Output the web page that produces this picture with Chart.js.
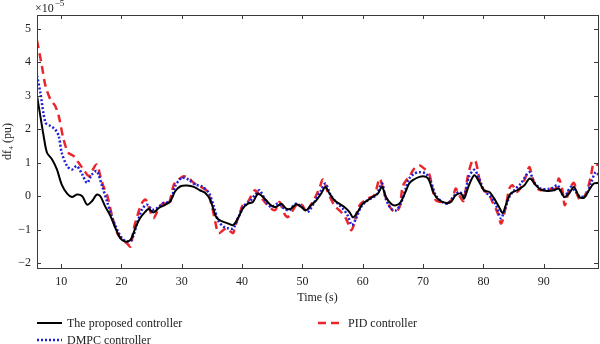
<!DOCTYPE html>
<html>
<head>
<meta charset="utf-8">
<script src="https://cdn.jsdelivr.net/npm/chart.js@4"></script>
<style>
  html, body { margin: 0; padding: 0; background: #fff; }
  #wrap { position: relative; width: 600px; height: 344px; }
</style>
</head>
<body>
<div id="wrap"><canvas id="myChart" width="600" height="344"></canvas></div>
<script>
"use strict";

// values are in units of 1e-5 pu
const propTime = [6, 6.55, 7.1, 7.66, 8.5, 9.3, 10.1, 11, 11.8, 12.6, 13.5, 14.3, 15.1, 15.9, 16.5, 17.3, 18.2, 19, 19.8, 20.6, 21.5, 22.3, 23.1, 24, 24.5, 25.3, 26.2, 27.3, 28.1, 28.9, 29.8, 30.9, 32, 33, 33.9, 34.7, 35.8, 36.7, 37.5,
  38.5, 39.3, 40.1, 40.95, 41.8, 42.6, 43.15, 44, 44.8, 45.6, 46.5, 47.3, 48.1, 49, 49.8, 50.6, 51.4, 52.3, 53.1, 53.8, 54.5, 55.3, 56.1, 56.95, 57.8, 58.4, 59.15, 60, 60.8, 61.6, 62.5, 63.2, 63.85, 64.7, 65.5, 66.3, 67.2, 67.7,
  68.3, 69.4, 70.5, 71, 71.8, 72.7, 73.8, 74.6, 75.4, 76.3, 76.8, 77.6, 78.5, 79.3, 80.1, 81, 81.8, 82.6, 83.2, 83.7, 84.5, 85.6, 86.8, 87.7, 88.7, 89.5, 90.6, 91.7, 92.5, 93.4, 94.2, 95, 95.9, 96.7, 97.5, 98.3, 99.2];
const propValues = [3.0, 2.4, 1.8, 1.3, 1.1, 0.8, 0.35, 0.08, -0.02, 0.05, 0, -0.25, -0.15, 0.05, 0, -0.3, -0.6, -0.95, -1.25, -1.35, -1.3, -0.95, -0.65, -0.45, -0.38, -0.48, -0.35, -0.25, -0.15, 0.15, 0.3, 0.32, 0.28, 0.18, 0.1, -0.1, -0.65, -0.75, -0.8,
  -0.86, -0.66, -0.37, -0.22, -0.17, 0.08, 0.03, -0.12, -0.27, -0.32, -0.22, -0.37, -0.37, -0.24, -0.32, -0.42, -0.27, -0.12, 0.08, 0.28, 0.08, -0.12, -0.22, -0.32, -0.47, -0.63, -0.47, -0.22, -0.12, -0.02, 0.08, 0.28, -0.02, -0.22, -0.27, -0.17, 0.18, 0.38,
  0.48, 0.58, 0.58, 0.48, 0.08, -0.12, -0.2, -0.17, 0.03, 0.08, -0.07, 0.33, 0.63, 0.43, 0.18, 0.13, -0.07, -0.32, -0.5, -0.27, 0.08, 0.18, 0.33, 0.53, 0.33, 0.2, 0.16, 0.18, 0.23, -0.02, 0.08, 0.28, -0.02, -0.04, 0.18, 0.38, 0.4];

const dmpcTime = [6, 6.55, 7.4, 8.2, 9, 9.6, 10.1, 11, 11.8, 12.6, 13.5, 14.3, 15.1, 15.9, 16.8, 17.6, 18.4, 19.3, 20.1, 20.9, 21.7, 22.6, 23.4, 24.2, 25.1, 25.9, 27, 28.1, 28.9, 30, 31.1, 32.2, 33.3, 34.5, 35.3, 36.1, 36.9, 37.5,
  38.5, 39.3, 40.4, 41.2, 42.3, 42.9, 44, 44.8, 45.9, 47, 47.8, 48.9, 50.3, 50.9, 52, 53.1, 53.8, 54.7, 55.6, 56.7, 57.5, 58.2, 58.9, 59.7, 60.8, 62.2, 63.2, 63.8, 64.7, 65.5, 66.3, 67.2,
  67.7, 68.5, 69.4, 70.5, 71.3, 72.1, 73.2, 74.1, 75.2, 76, 76.8, 77.6, 78.5, 79.3, 80.1, 81.2, 82.1, 82.9, 83.4, 84.3, 85.1, 86.2, 87.6, 88.4, 89.5, 91.2, 92.3, 93.4, 94.5, 95.3, 96.1, 97, 97.8, 98.6, 99.2];
const dmpcValues = [3.6, 3.1, 2.2, 2.1, 2.0, 1.8, 1.3, 0.9, 0.8, 0.9, 0.65, 0.4, 0.65, 0.75, 0.3, -0.15, -0.6, -1.0, -1.25, -1.35, -1.3, -0.8, -0.4, -0.25, -0.4, -0.35, -0.2, -0.15, 0.3, 0.55, 0.5, 0.35, 0.3, 0.1, -0.3, -0.75, -0.9, -0.95,
  -0.96, -0.66, -0.27, -0.17, 0.08, 0.18, -0.17, -0.32, -0.22, -0.37, -0.42, -0.22, -0.37, -0.47, -0.17, 0.18, 0.38, 0.03, -0.17, -0.37, -0.57, -0.86, -0.66, -0.32, -0.12, 0.03, 0.38, -0.07, -0.37, -0.42, -0.22, 0.28,
  0.53, 0.67, 0.72, 0.67, 0.43, 0.03, -0.17, -0.22, 0.03, 0.13, 0.03, 0.58, 0.79, 0.53, 0.18, -0.02, -0.27, -0.66, -0.47, -0.02, 0.18, 0.38, 0.72, 0.43, 0.23, 0.23, 0.33, -0.02, 0.28, 0.13, -0.02, 0.03, 0.38, 0.72, 0.62];

const pidTime = [6, 6.8, 7.4, 8.2, 9, 9.6, 10.4, 11.2, 12.1, 12.9, 13.7, 14.6, 15.1, 15.9, 16.5, 17, 17.6, 18.4, 19.3, 20.1, 20.9, 21.5, 22, 22.6, 23.4, 24, 24.5, 25.3, 26.2, 27, 27.8, 28.7, 29.5, 30.3, 31.1, 32, 33, 34.2, 35, 35.6, 36.1,
  37.35, 38.5, 38.8, 39.6, 40.1, 40.95, 42.1, 42.9, 44, 45.4, 46.2, 47, 47.6, 49.2, 50, 50.6, 51.2, 52, 52.8, 53.4, 54.2, 55.3, 56.4, 57.2, 57.8, 58.1, 58.6, 59.2, 59.7, 60.8, 61.9, 62.8, 63.3, 64.2, 65.3, 66.1, 66.6, 67.2,
  67.7, 68.5, 69.4, 69.9, 71, 71.6, 72.1, 73, 74.1, 74.9, 75.4, 76, 76.7, 77.4, 78.2, 78.75, 79.5, 80.1, 81, 81.5, 82.3, 82.9, 83.2, 83.7, 84.3, 84.8, 85.6, 86.8, 87.6, 88.1, 88.7, 89.5, 90.6, 92, 92.5, 93.1, 93.5, 94.2, 95, 95.6, 96.1, 97, 97.8, 98.3, 99.2];
const pidValues = [4.65, 3.9, 3.3, 2.9, 2.7, 2.4, 1.7, 1.3, 1.2, 1.0, 0.8, 0.6, 0.75, 0.95, 0.6, 0.3, 0.05, -0.55, -1.1, -1.3, -1.4, -1.5, -1.0, -0.6, -0.2, -0.1, -0.3, -0.65, -0.35, -0.2, -0.25, 0.35, 0.5, 0.6, 0.55, 0.4, 0.3, 0.15, -0.3, -0.8, -1.1,
  -0.96, -1.1, -0.9, -0.52, -0.27, -0.17, 0.18, 0.03, -0.22, -0.42, -0.17, -0.52, -0.62, -0.22, -0.27, -0.47, -0.32, -0.07, 0.23, 0.5, 0.13, -0.27, -0.47, -0.66, -0.91, -1.01, -0.81, -0.37, -0.22, -0.07, 0.03, 0.53, 0.28, -0.22, -0.47, -0.32, 0.28, 0.48,
  0.58, 0.82, 0.92, 0.87, 0.67, 0.18, -0.12, -0.17, -0.2, -0.07, 0.23, 0.03, -0.14, 0.58, 1.07, 1.02, 0.38, 0.18, 0.03, -0.17, -0.47, -0.81, -0.71, -0.32, 0.23, 0.33, 0.13, 0.48, 0.87, 0.58, 0.28, 0.18, 0.23, 0.23, 0.53, 0.18, -0.27, 0.18, 0.4, 0.03, -0.12, 0.08, 0.58, 0.97, 0.92];

const xTicks = [10, 20, 30, 40, 50, 60, 70, 80, 90];
const yTicks = [-2, -1, 0, 1, 2, 3, 4, 5];

const serif = "'Liberation Serif', 'DejaVu Serif', serif";
const pts = (ts, vs) => ts.map((t, i) => ({ x: t, y: vs[i] }));

// inward ticks on all four sides + box + exponent + legend
const framePlugin = {
  id: 'frame',
  afterDraw(chart) {
    const { ctx, chartArea: a, scales } = chart;
    ctx.save();
    ctx.strokeStyle = '#3a3a3a';
    ctx.lineWidth = 1;
    ctx.strokeRect(Math.round(a.left) + 0.5, Math.round(a.top) + 0.5, Math.round(a.right - a.left), Math.round(a.bottom - a.top));
    ctx.beginPath();
    xTicks.forEach(v => {
      const x = Math.round(scales.x.getPixelForValue(v)) + 0.5;
      ctx.moveTo(x, a.bottom); ctx.lineTo(x, a.bottom - 4);
      ctx.moveTo(x, a.top); ctx.lineTo(x, a.top + 4);
    });
    yTicks.forEach(v => {
      const y = Math.round(scales.y.getPixelForValue(v)) + 0.5;
      ctx.moveTo(a.left, y); ctx.lineTo(a.left + 4, y);
      ctx.moveTo(a.right, y); ctx.lineTo(a.right - 4, y);
    });
    ctx.stroke();

    // exponent
    ctx.fillStyle = '#222';
    ctx.textBaseline = 'alphabetic';
    ctx.font = '12px ' + serif;
    ctx.fillText('×10', 35, 12);
    const w = ctx.measureText('×10').width;
    ctx.font = '9px ' + serif;
    ctx.fillText('−5', 35 + w + 1, 6);

    // legend
    const spots = [
      { x: 37, y: 323 },
      { x: 37, y: 340 },
      { x: 318, y: 323 }
    ];
    ctx.font = '12px ' + serif;
    ctx.textBaseline = 'middle';
    chart.data.datasets.forEach((ds, i) => {
      const p = spots[i];
      ctx.beginPath();
      ctx.strokeStyle = ds.borderColor;
      ctx.lineWidth = ds.borderWidth;
      ctx.setLineDash(ds.borderDash || []);
      ctx.moveTo(p.x, p.y); ctx.lineTo(p.x + 25, p.y);
      ctx.stroke();
      ctx.setLineDash([]);
      ctx.fillStyle = '#222';
      ctx.fillText(ds.label, p.x + 30, p.y + 1);
    });
    ctx.restore();
  }
};

const data = {
  datasets: [
    {
      label: 'The proposed controller',
      data: pts(propTime, propValues),
      borderColor: '#000000',
      borderWidth: 2,
      order: 1
    },
    {
      label: 'DMPC controller',
      data: pts(dmpcTime, dmpcValues),
      borderColor: '#1f1fd6',
      borderWidth: 2.5,
      borderDash: [2, 2],
      order: 2
    },
    {
      label: 'PID controller',
      data: pts(pidTime, pidValues),
      borderColor: '#e8262b',
      borderWidth: 2.5,
      borderDash: [8, 5],
      order: 3
    }
  ]
};

const config = {
  type: 'line',
  data: data,
  options: {
    responsive: false,
    animation: false,
    layout: { padding: { top: 15, right: 2, left: 0, bottom: 0 } },
    elements: { point: { radius: 0 }, line: { tension: 0.3, fill: false } },
    plugins: { legend: { display: false }, tooltip: { enabled: false } },
    scales: {
      x: {
        type: 'linear',
        min: 6,
        max: 99,
        afterFit: s => { s.height = 76; },
        afterBuildTicks: s => { s.ticks = xTicks.map(v => ({ value: v })); },
        grid: { display: false, drawTicks: false },
        border: { display: false },
        ticks: { padding: 7, color: '#222', font: { family: serif, size: 12 } },
        title: { display: true, text: 'Time (s)', color: '#222', font: { family: serif, size: 12 }, padding: { top: 0, bottom: 39 } }
      },
      y: {
        min: -2.14,
        max: 5.41,
        afterFit: s => { s.width = 37; },
        afterBuildTicks: s => { s.ticks = yTicks.map(v => ({ value: v })); },
        grid: { display: false, drawTicks: false },
        border: { display: false },
        ticks: {
          padding: 6, color: '#222', font: { family: serif, size: 12 },
          callback: v => String(v).replace('-', '−')
        },
        title: { display: true, text: 'df₄ (pu)', color: '#222', font: { family: serif, size: 12 }, padding: { top: 1, bottom: 0 } }
      }
    }
  },
  plugins: [framePlugin]
};

const myChart = new Chart(document.getElementById('myChart'), config);
</script>
</body>
</html>
